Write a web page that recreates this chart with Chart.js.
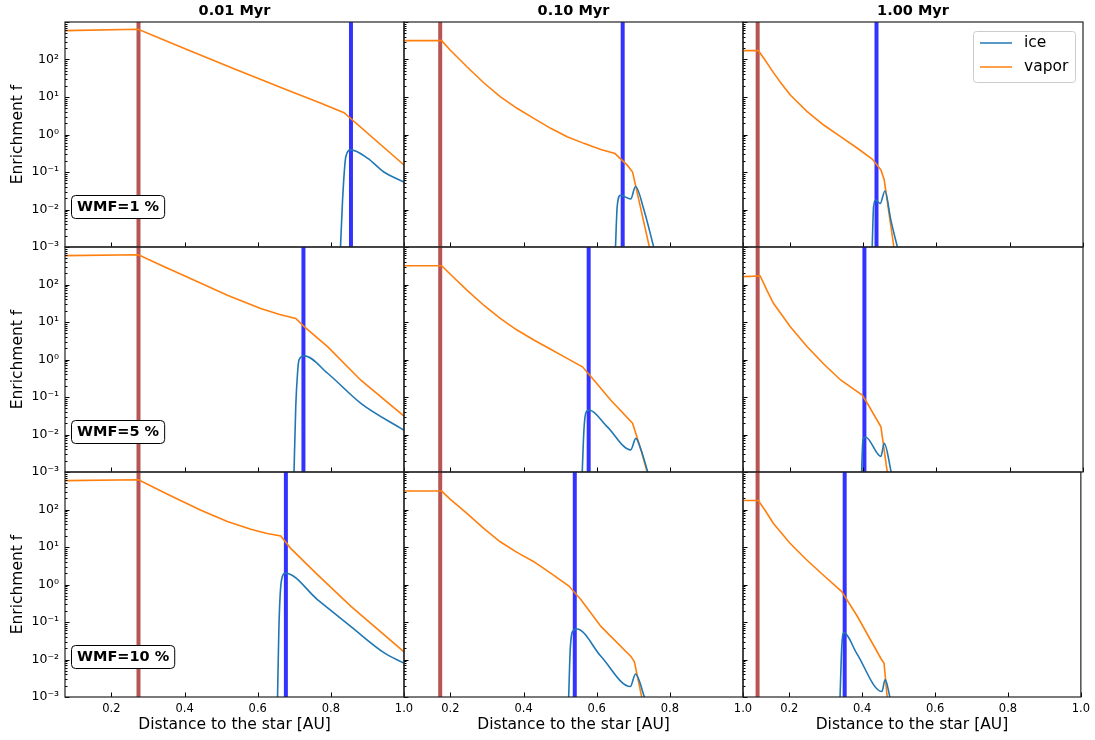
<!DOCTYPE html>
<html>
<head>
<meta charset="utf-8">
<script src="https://cdn.jsdelivr.net/npm/chart.js@4.4.0/dist/chart.umd.min.js"></script>
<style>
  html, body { margin: 0; padding: 0; background: #fff; }
  #wrap { position: relative; width: 1095px; height: 740px; }
  #wrap canvas { position: absolute; left: 0; top: 0; }
</style>
</head>
<body>
<div id="wrap"></div>
<script>
// column titles and row labels
const times = ['0.01 Myr', '0.10 Myr', '1.00 Myr'];
const wmf = ['WMF=1 %', 'WMF=5 %', 'WMF=10 %'];
const xTicks = [0.2, 0.4, 0.6, 0.8, 1.0];
const yTicks = [1e-3, 1e-2, 1e-1, 1, 10, 100];

// vertical markers (AU)
const brownX = [0.274, 0.172, 0.113];
const blueX1 = [0.855, 0.671, 0.437];
const blueX2 = [0.725, 0.578, 0.404];
const blueX3 = [0.677, 0.540, 0.352];

// row 1 (WMF=1 %)
const vapX_11 = [0.073, 0.273, 0.398, 0.535, 0.672, 0.773, 0.836, 1.0];
const vapY_11 = [590, 640, 199, 57, 16.7, 6.8, 3.8, 0.154];
const iceX_11 = [0.826, 0.832, 0.841, 0.855, 0.901, 0.945, 1.0];
const iceY_11 = [0.0008, 0.018, 0.26, 0.39, 0.23, 0.10, 0.054];

const vapX_12 = [0.073, 0.176, 0.199, 0.245, 0.291, 0.336, 0.382, 0.428, 0.474, 0.519, 0.565, 0.611, 0.650, 0.684, 0.698, 0.745];
const vapY_12 = [318, 318, 179, 64, 24, 10.2, 5.0, 2.7, 1.46, 0.875, 0.58, 0.40, 0.31, 0.15, 0.10, 0.0009];
const iceX_12 = [0.651, 0.656, 0.665, 0.693, 0.706, 0.729, 0.757];
const iceY_12 = [0.0008, 0.012, 0.024, 0.019, 0.041, 0.0098, 0.0009];

const vapX_13 = [0.073, 0.115, 0.133, 0.156, 0.179, 0.202, 0.248, 0.293, 0.339, 0.385, 0.426, 0.449, 0.458, 0.485];
const vapY_13 = [172, 172, 97, 44.6, 22, 11.3, 4.06, 1.79, 0.875, 0.43, 0.218, 0.113, 0.062, 0.0009];
const iceX_13 = [0.425, 0.429, 0.435, 0.447, 0.460, 0.476, 0.495];
const iceY_13 = [0.0008, 0.012, 0.018, 0.0144, 0.031, 0.0053, 0.0009];

// row 2 (WMF=5 %)
const vapX_21 = [0.073, 0.274, 0.334, 0.425, 0.517, 0.608, 0.660, 0.704, 0.727, 0.791, 0.882, 1.0];
const vapY_21 = [590, 624, 330, 132, 52, 23, 15.8, 12.5, 7.5, 2.2, 0.28, 0.031];
const iceX_21 = [0.699, 0.704, 0.709, 0.713, 0.727, 0.791, 0.882, 1.0];
const iceY_21 = [0.0008, 0.055, 0.45, 0.98, 1.26, 0.43, 0.068, 0.013];

const vapX_22 = [0.073, 0.176, 0.199, 0.245, 0.291, 0.336, 0.382, 0.428, 0.474, 0.519, 0.561, 0.584, 0.638, 0.698, 0.721, 0.739];
const vapY_22 = [316, 316, 190, 71, 28, 12.5, 6.1, 3.3, 1.87, 1.07, 0.64, 0.35, 0.083, 0.020, 0.0039, 0.0009];
const iceX_22 = [0.560, 0.565, 0.570, 0.579, 0.629, 0.693, 0.707, 0.721, 0.741];
const iceY_22 = [0.0008, 0.013, 0.037, 0.045, 0.016, 0.0039, 0.0079, 0.0039, 0.0009];

const vapX_23 = [0.073, 0.120, 0.138, 0.156, 0.202, 0.248, 0.293, 0.339, 0.398, 0.412, 0.449, 0.467];
const vapY_23 = [162, 169, 71, 31.5, 7.5, 2.19, 0.76, 0.284, 0.113, 0.068, 0.016, 0.0009];
const iceX_23 = [0.396, 0.400, 0.407, 0.449, 0.458, 0.478];
const iceY_23 = [0.0008, 0.0071, 0.0086, 0.0026, 0.0058, 0.0009];

// row 3 (WMF=10 %)
const vapX_31 = [0.073, 0.274, 0.352, 0.443, 0.517, 0.581, 0.626, 0.663, 0.690, 0.764, 0.855, 1.0];
const vapY_31 = [590, 620, 259, 97, 48, 29.6, 23, 19.6, 9.2, 1.8, 0.26, 0.016];
const iceX_31 = [0.654, 0.658, 0.665, 0.676, 0.764, 0.855, 0.946, 1.0];
const iceY_31 = [0.0008, 0.076, 1.3, 2.0, 0.39, 0.075, 0.015, 0.008];

const vapX_32 = [0.073, 0.176, 0.199, 0.245, 0.291, 0.336, 0.382, 0.428, 0.474, 0.524, 0.557, 0.612, 0.694, 0.703, 0.724];
const vapY_32 = [310, 310, 190, 79, 31.5, 13.8, 7.2, 4.06, 2.0, 0.91, 0.39, 0.075, 0.0119, 0.0087, 0.0009];
const iceX_32 = [0.523, 0.528, 0.537, 0.546, 0.612, 0.692, 0.706, 0.732];
const iceY_32 = [0.0008, 0.022, 0.061, 0.065, 0.012, 0.0019, 0.0041, 0.0009];

const vapX_33 = [0.073, 0.115, 0.133, 0.156, 0.202, 0.248, 0.293, 0.344, 0.387, 0.451, 0.460, 0.469];
const vapY_33 = [173, 173, 97, 43, 12.6, 4.5, 1.79, 0.645, 0.14, 0.0108, 0.0079, 0.0009];
const iceX_33 = [0.339, 0.344, 0.350, 0.385, 0.454, 0.463, 0.477];
const iceY_33 = [0.0008, 0.022, 0.052, 0.0146, 0.0014, 0.0029, 0.0009];

const vapX = [[vapX_11, vapX_12, vapX_13], [vapX_21, vapX_22, vapX_23], [vapX_31, vapX_32, vapX_33]];
const vapY = [[vapY_11, vapY_12, vapY_13], [vapY_21, vapY_22, vapY_23], [vapY_31, vapY_32, vapY_33]];
const iceX = [[iceX_11, iceX_12, iceX_13], [iceX_21, iceX_22, iceX_23], [iceX_31, iceX_32, iceX_33]];
const iceY = [[iceY_11, iceY_12, iceY_13], [iceY_21, iceY_22, iceY_23], [iceY_31, iceY_32, iceY_33]];
const blueX = [blueX1, blueX2, blueX3];

// page layout
const W = 1095, H = 740;
const colLeft = [65, 404, 743];
const colW = [339, 339, 340];
const rowTop = [22, 247, 472];
const rowH = 225;

Chart.defaults.font.family = "'DejaVu Sans', sans-serif";
Chart.defaults.color = '#000';

const sup = { '-': '\u207B', '0': '\u2070', '1': '\u00B9', '2': '\u00B2', '3': '\u00B3' };
function logLabel(v) {
  const e = Math.round(Math.log10(v));
  return '10' + String(e).split('').map(ch => sup[ch]).join('');
}
function zip(xs, ys) {
  return xs.map((x, i) => ({ x: x, y: ys[i] }));
}
function vline(x) {
  return [{ x: x, y: 1e-6 }, { x: x, y: 1e6 }];
}

function roundBox(ctx, x, y, w, h, r) {
  ctx.beginPath();
  ctx.moveTo(x + r, y);
  ctx.arcTo(x + w, y, x + w, y + h, r);
  ctx.arcTo(x + w, y + h, x, y + h, r);
  ctx.arcTo(x, y + h, x, y, r);
  ctx.arcTo(x, y, x + w, y, r);
  ctx.closePath();
}

function makeDecor(r, c) {
  return {
    id: 'decor' + r + c,
    afterDraw(chart) {
      const ctx = chart.ctx;
      const a = chart.chartArea;
      const xs = chart.scales.x, ys = chart.scales.y;
      ctx.save();
      // ticks, inward on left and bottom
      ctx.strokeStyle = '#000';
      ctx.lineWidth = 1;
      ctx.beginPath();
      for (let d = -3; d <= 3; d++) {
        const py = Math.round(ys.getPixelForValue(Math.pow(10, d))) + 0.5;
        ctx.moveTo(a.left, py); ctx.lineTo(a.left + 4.5, py);
        if (d < 3) {
          for (let k = 2; k <= 9; k++) {
            const pm = Math.round(ys.getPixelForValue(k * Math.pow(10, d))) + 0.5;
            ctx.moveTo(a.left, pm); ctx.lineTo(a.left + 2.5, pm);
          }
        }
      }
      xTicks.forEach(v => {
        const px = Math.round(xs.getPixelForValue(v)) + 0.5;
        ctx.moveTo(px, a.bottom); ctx.lineTo(px, a.bottom - 4.5);
      });
      ctx.stroke();
      // frame
      ctx.strokeStyle = '#222';
      ctx.lineWidth = 1.2;
      ctx.strokeRect(a.left, a.top, a.right - a.left, a.bottom - a.top);

      const cx = (a.left + a.right) / 2;
      ctx.fillStyle = '#000';
      ctx.textAlign = 'center';
      ctx.textBaseline = 'middle';
      if (r === 0) {
        ctx.font = "bold 14.5px 'DejaVu Sans'";
        ctx.fillText(times[c], cx, 11);
      }
      if (r === 2) {
        ctx.font = "15.5px 'DejaVu Sans'";
        ctx.fillText('Distance to the star [AU]', cx, 725);
      }
      if (c === 0) {
        ctx.save();
        ctx.translate(18, (a.top + a.bottom) / 2);
        ctx.rotate(-Math.PI / 2);
        ctx.font = "15.5px 'DejaVu Sans'";
        ctx.fillText('Enrichment f', 0, 0);
        ctx.restore();
        // WMF box
        ctx.font = "bold 14.5px 'DejaVu Sans'";
        const tw = ctx.measureText(wmf[r]).width;
        const bx = a.left + 6, by = a.top + 173;
        roundBox(ctx, bx + 0.5, by + 0.5, tw + 11, 23, 4);
        ctx.fillStyle = '#fff';
        ctx.fill();
        ctx.strokeStyle = '#000';
        ctx.lineWidth = 1;
        ctx.stroke();
        ctx.fillStyle = '#000';
        ctx.textAlign = 'left';
        ctx.fillText(wmf[r], bx + 6, by + 12);
      }
      if (r === 0 && c === 2) {
        roundBox(ctx, 973.5, 31.5, 102, 51, 3);
        ctx.fillStyle = 'rgba(255,255,255,0.8)';
        ctx.fill();
        ctx.strokeStyle = '#cccccc';
        ctx.lineWidth = 1;
        ctx.stroke();
        ctx.font = "15.5px 'DejaVu Sans'";
        ctx.textAlign = 'left';
        [0, 1].forEach(i => {
          const ds = chart.data.datasets[i];
          const ly = 43 + i * 24;
          ctx.strokeStyle = ds.borderColor;
          ctx.lineWidth = 1.5;
          ctx.beginPath();
          ctx.moveTo(980, ly); ctx.lineTo(1012, ly);
          ctx.stroke();
          ctx.fillStyle = '#000';
          ctx.fillText(ds.label, 1024, ly);
        });
      }
      ctx.restore();
    }
  };
}

const wrap = document.getElementById('wrap');
for (let r = 0; r < 3; r++) {
  for (let c = 0; c < 3; c++) {
    const canvas = document.createElement('canvas');
    canvas.width = W;
    canvas.height = H;
    wrap.appendChild(canvas);
    const bottomSpace = H - rowTop[r] - rowH;
    new Chart(canvas, {
      type: 'line',
      data: {
        datasets: [
          { label: 'ice', data: zip(iceX[r][c], iceY[r][c]), borderColor: '#1f77b4', borderWidth: 1.6,
            pointRadius: 0, cubicInterpolationMode: 'monotone' },
          { label: 'vapor', data: zip(vapX[r][c], vapY[r][c]), borderColor: '#ff7f0e', borderWidth: 1.6,
            pointRadius: 0, tension: 0 },
          { label: 'inner', data: vline(brownX[c]), borderColor: 'rgba(165,42,42,0.8)', borderWidth: 4, pointRadius: 0 },
          { label: 'snow', data: vline(blueX[r][c]), borderColor: 'rgba(0,0,255,0.8)', borderWidth: 4, pointRadius: 0 }
        ]
      },
      options: {
        responsive: false,
        animation: false,
        events: [],
        layout: { padding: { left: 0, top: rowTop[r], right: W - colLeft[c] - colW[c], bottom: 0 } },
        plugins: { legend: { display: false }, tooltip: { enabled: false } },
        scales: {
          x: {
            type: 'linear', min: 0.073, max: 1.0,
            afterBuildTicks: s => { s.ticks = xTicks.map(v => ({ value: v })); },
            afterFit: s => { s.height = bottomSpace; },
            grid: { display: false, drawTicks: false },
            border: { display: false },
            ticks: { display: r === 2, padding: 5, autoSkip: false, maxRotation: 0,
              font: { size: 11.5 }, color: '#000', callback: v => v.toFixed(1) }
          },
          y: {
            type: 'logarithmic', min: 1e-3, max: 1e3,
            afterBuildTicks: s => { s.ticks = yTicks.map(v => ({ value: v })); },
            afterFit: s => { s.width = colLeft[c]; },
            grid: { display: false, drawTicks: false },
            border: { display: false },
            ticks: { display: c === 0, padding: 6, font: { size: 12.5 }, color: '#000', callback: v => logLabel(v) }
          }
        }
      },
      plugins: [makeDecor(r, c)]
    });
  }
}
</script>
</body>
</html>
